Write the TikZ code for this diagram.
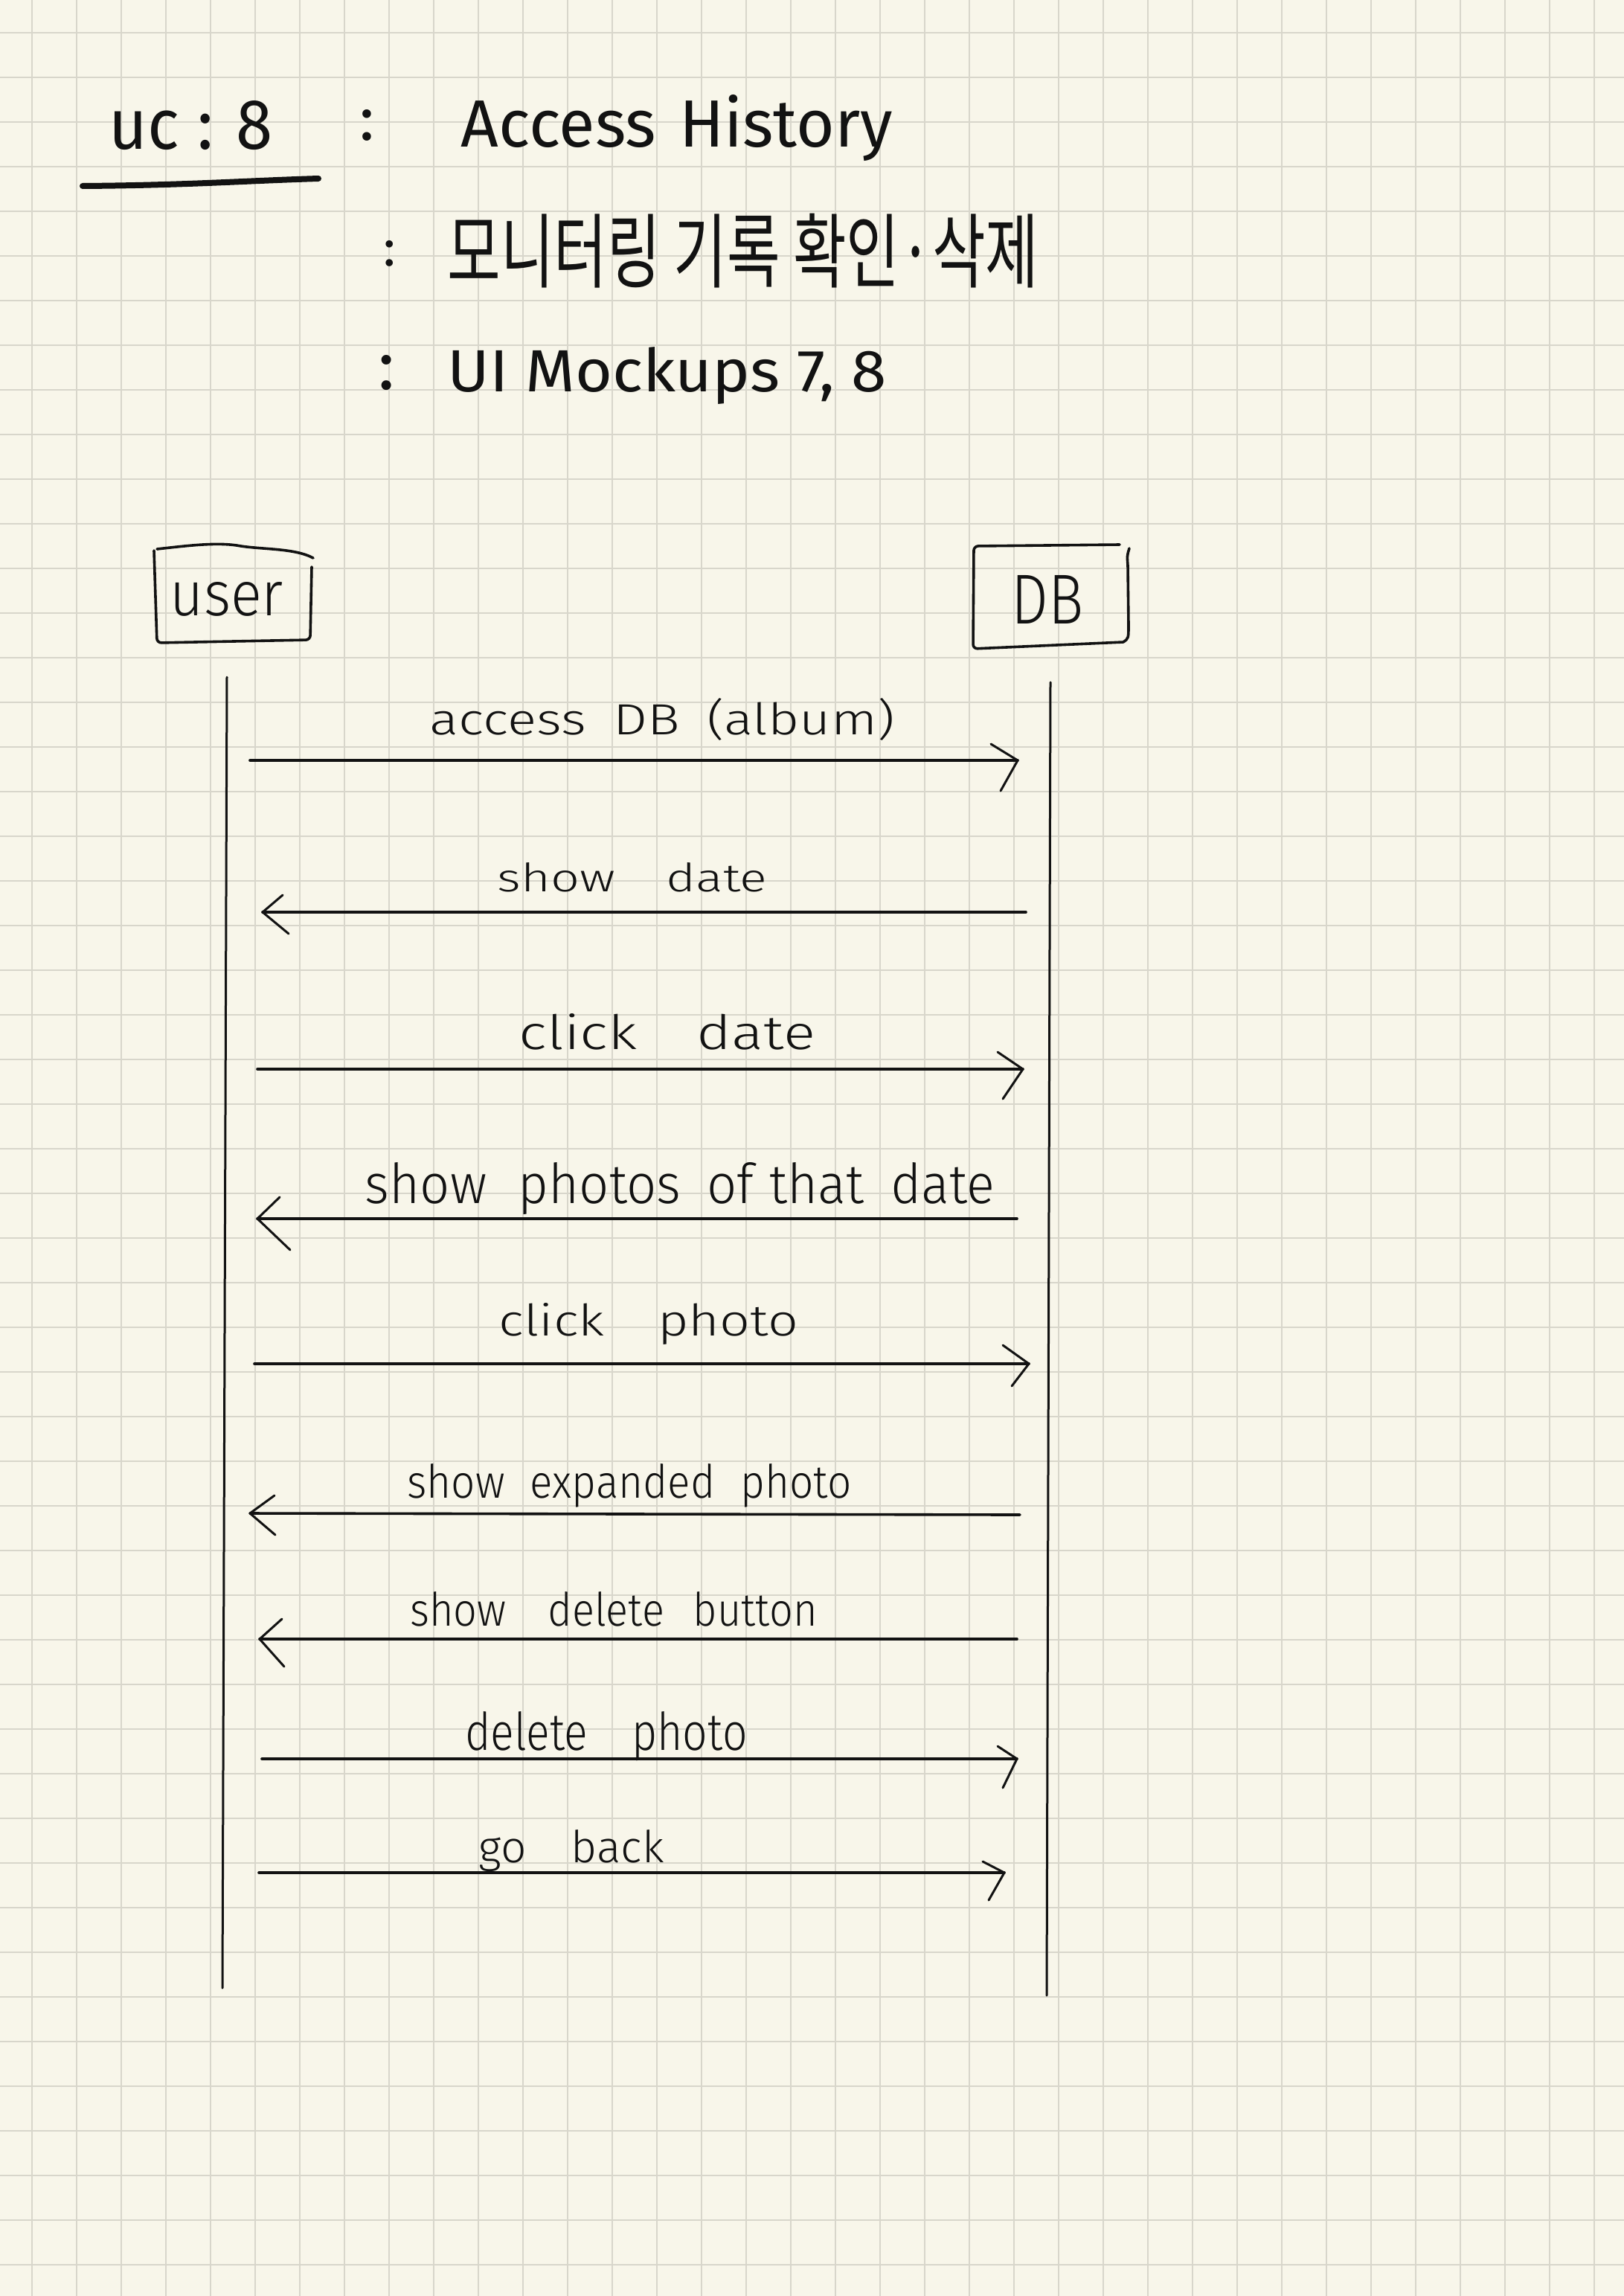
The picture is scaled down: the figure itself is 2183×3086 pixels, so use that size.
\documentclass[tikz,border=0pt]{standalone}
\usepackage{fontspec}
\setmainfont{Fira Sans}
\newfontfamily\hwlight{Fira Sans Light}
\newfontfamily\krfont{Noto Sans CJK KR}
\usetikzlibrary{calc}
\definecolor{paper}{RGB}{248,246,234}
\definecolor{gridc}{RGB}{216,214,203}
\definecolor{ink}{RGB}{18,18,18}
\newcommand{\hwfit}[3]{\resizebox{#1pt}{#2pt}{#3}}
\newcommand{\hwfitt}[3]{\resizebox*{#1pt}{#2pt}{#3}}
\newcommand{\hwcolon}[1]{\resizebox{!}{#1pt}{:}}
\tikzset{
  gridline/.style={draw=gridc, line width=1.8pt},
  headtext/.style={inner sep=0pt, text=ink, anchor=base},
  lbl/.style={inner sep=0pt, text=ink, anchor=base, font=\hwlight},
  boxline/.style={draw=ink, line width=3.6pt, line cap=round, line join=round},
  lifeline/.style={draw=ink, line width=3pt, line cap=round},
  msgline/.style={draw=ink, line width=3.6pt, line cap=round},
  msghead/.style={draw=ink, line width=3pt, line cap=round, line join=round},
  underl/.style={draw=ink, line width=8pt, line cap=round}
}
\begin{document}
\begin{tikzpicture}[x=1pt, y=-1pt]
\useasboundingbox (0,0) rectangle (2183,3086);
\fill[paper] (0,0) rectangle (2183,3086);
\foreach \i in {0,...,35} \draw[gridline] ({43+60*\i},0) -- ({43+60*\i},3086);
\foreach \j in {0,...,50} \draw[gridline] (0,{44+60*\j}) -- (2183,{44+60*\j});

% ---------- header ----------
\node[headtext] (uc) at (257,200) {\hwfit{220}{65}{uc : 8}};
\draw[underl] (111,250) .. controls (250,249) and (330,243) .. (428,240);
\node[headtext] (c1) at (493,188) {\hwcolon{41}};
\node[headtext] (title) at (910,197) {\hwfit{580}{70}{Access\hspace{0.35em}History}};
\node[headtext] (c2) at (524,357) {\hwcolon{34}};
\node[inner sep=0pt, text=ink] (kr) at (999,337) {\hwfitt{795}{100}{\krfont 모니터링 기록 확인·삭제}};
\node[headtext] (c3) at (520,523) {\hwcolon{46}};
\node[headtext] (ui) at (897,526) {\hwfit{590}{60}{UI Mockups 7, 8}};

% ---------- participants ----------
\node[lbl] (user) at (305,827) {\hwfit{152}{45}{user}};
\draw[boxline] (211,738) .. controls (255,733) and (290,729) .. (318,733)
  .. controls (350,739) and (395,736) .. (421,750);
\draw[boxline, rounded corners=6pt] (419,762) -- (417,860) -- (211,864) -- (207,740);

\node[lbl] (db) at (1408,838) {\hwfit{97}{65}{DB}};
\draw[boxline, rounded corners=6pt] (1505,732) -- (1309,734) -- (1308,872) -- (1510,863);
\draw[boxline] (1510,863) .. controls (1517,858) .. (1517,840) -- (1516,760) .. controls (1515,747) .. (1518,737);

% ---------- lifelines ----------
\coordinate (uTop) at (305,910);
\coordinate (uBot) at (299,2672);
\coordinate (dTop) at (1412,917);
\coordinate (dBot) at (1407,2682);
\draw[lifeline] (uTop) -- (uBot);
\draw[lifeline] (dTop) -- (dBot);

% ---------- messages ----------
% 1
\coordinate (m1s) at (336,1022); \coordinate (m1e) at (1368,1022);
\draw[msgline] (m1s) -- (m1e);
\draw[msghead] (m1e) ++(-36,-22) -- (m1e) -- ++(-23,41);
\node[lbl] (l1) at (890,987) {\hwfit{625}{49}{access\hspace{0.5em}DB\hspace{0.5em}(album)}};
% 2
\coordinate (m2s) at (1379,1226); \coordinate (m2e) at (353,1226);
\draw[msgline] (m2s) -- (m2e);
\draw[msghead] (m2e) ++(27,-23) -- (m2e) -- ++(35,29);
\node[lbl] (l2) at (850,1198) {\hwfit{362}{39}{show\quad date}};
% 3
\coordinate (m3s) at (346,1437); \coordinate (m3e) at (1375,1437);
\draw[msgline] (m3s) -- (m3e);
\draw[msghead] (m3e) ++(-34,-23) -- (m3e) -- ++(-27,40);
\node[lbl] (l3) at (897,1410) {\hwfit{398}{48}{click\quad date}};
% 4
\coordinate (m4s) at (1367,1638); \coordinate (m4e) at (346,1638);
\draw[msgline] (m4s) -- (m4e);
\draw[msghead] (m4e) ++(30,-29) -- (m4e) -- ++(44,42);
\node[lbl] (l4) at (914,1617) {\hwfit{846}{55}{show\hspace{0.6em}photos\hspace{0.5em}of\hspace{0.3em}that\hspace{0.5em}date}};
% 5
\coordinate (m5s) at (342,1833); \coordinate (m5e) at (1383,1833);
\draw[msgline] (m5s) -- (m5e);
\draw[msghead] (m5e) ++(-35,-25) -- (m5e) -- ++(-23,30);
\node[lbl] (l5) at (872,1795) {\hwfit{402}{44}{click\quad photo}};
% 6
\coordinate (m6s) at (1371,2036); \coordinate (m6e) at (336,2034);
\draw[msgline] (m6s) -- (m6e);
\draw[msghead] (m6e) ++(33,-24) -- (m6e) -- ++(34,29);
\node[lbl] (l6) at (846,2013) {\hwfit{597}{46}{show\hspace{0.6em}expanded\hspace{0.6em}photo}};
% 7
\coordinate (m7s) at (1367,2203); \coordinate (m7e) at (349,2203);
\draw[msgline] (m7s) -- (m7e);
\draw[msghead] (m7e) ++(30,-27) -- (m7e) -- ++(33,37);
\node[lbl] (l7) at (825,2185) {\hwfit{547}{46}{show\quad delete\hspace{0.7em}button}};
% 8
\coordinate (m8s) at (352,2364); \coordinate (m8e) at (1367,2364);
\draw[msgline] (m8s) -- (m8e);
\draw[msghead] (m8e) ++(-26,-17) -- (m8e) -- ++(-19,39);
\node[lbl] (l8) at (815,2352) {\hwfit{379}{52}{delete\quad photo}};
% 9
\coordinate (m9s) at (348,2517); \coordinate (m9e) at (1350,2517);
\draw[msgline] (m9s) -- (m9e);
\draw[msghead] (m9e) ++(-29,-15) -- (m9e) -- ++(-21,37);
\node[lbl] (l9) at (768,2503) {\hwfit{249}{44}{go\quad back}};
\end{tikzpicture}
\end{document}
